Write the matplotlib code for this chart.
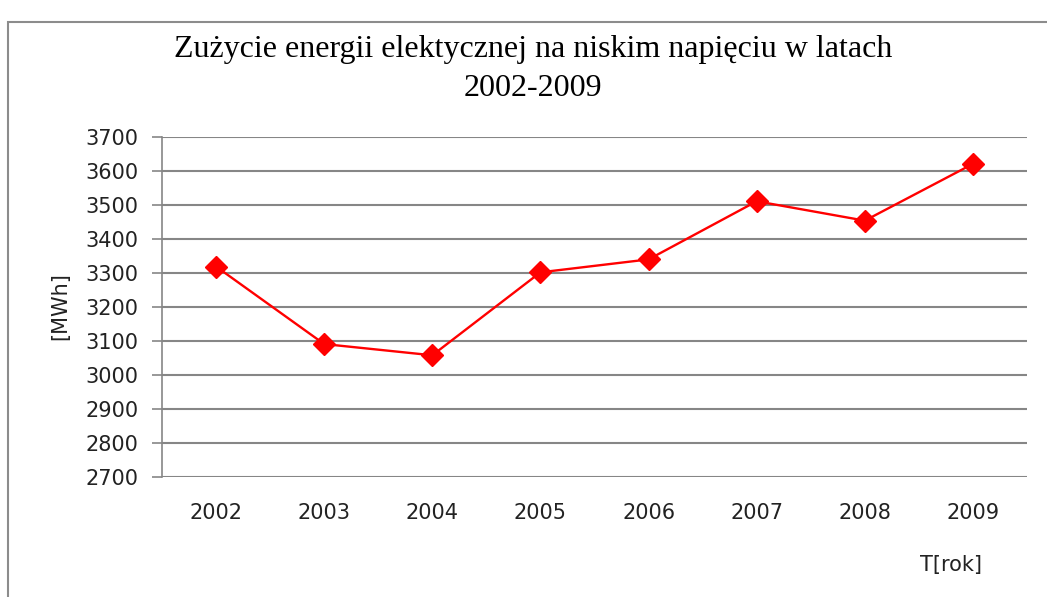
import matplotlib.pyplot as plt
from matplotlib.patches import Rectangle

years = ["2002", "2003", "2004", "2005", "2006", "2007", "2008", "2009"]
usage = [3319, 3091, 3058, 3302, 3340, 3511, 3454, 3621]
y_ticks = list(range(2700, 3701, 100))

title = "Zużycie energii elektycznej na niskim napięciu w latach\n2002-2009"
tick_font = "DejaVu Sans"

fig = plt.figure(figsize=(10.47, 5.97), dpi=100)
ax = fig.add_axes([162 / 1047, 120 / 597, 865 / 1047, 340 / 597])

# gray chart frame, as in the spreadsheet export
fig.patches.append(Rectangle((8 / 1047, -0.1), 1.2, 1 - 22 / 597 + 0.1,
                             transform=fig.transFigure, fill=False,
                             edgecolor="#8c8c8c", linewidth=1.5))

x = list(range(len(years)))
ax.plot(x, usage, color="#ff0000", linewidth=1.7, marker="D",
        markersize=11, markerfacecolor="#ff0000", markeredgecolor="#ff0000",
        zorder=3)

ax.set_xlim(-0.5, len(years) - 0.5)
ax.set_ylim(2700, 3700)
ax.set_yticks(y_ticks)
ax.set_xticks(x)
ax.set_xticklabels(years)
ax.yaxis.grid(True, color="#868686", linewidth=1.5)
ax.set_axisbelow(True)

for side in ["top", "right", "bottom"]:
    ax.spines[side].set_visible(False)
ax.spines["left"].set_color("#868686")
ax.spines["left"].set_linewidth(1.2)
ax.tick_params(axis="y", length=7, width=1.2, color="#868686", pad=10)
ax.tick_params(axis="x", length=0, pad=19)
for lab in ax.get_xticklabels() + ax.get_yticklabels():
    lab.set_family(tick_font)
    lab.set_fontsize(15)
    lab.set_color("#222222")

fig.text(533 / 1047, 1 - 69 / 597, title, ha="center", va="center",
         fontsize=23, family="Liberation Serif", linespacing=1.42)
fig.text(60 / 1047, 1 - 306 / 597, "[MWh]", rotation=90, ha="center",
         va="center", fontsize=15, family=tick_font, color="#222222")
fig.text(951 / 1047, 1 - 565 / 597, "T[rok]", ha="center", va="center",
         fontsize=15, family=tick_font, color="#222222")

fig.savefig("out.png", dpi=100)
